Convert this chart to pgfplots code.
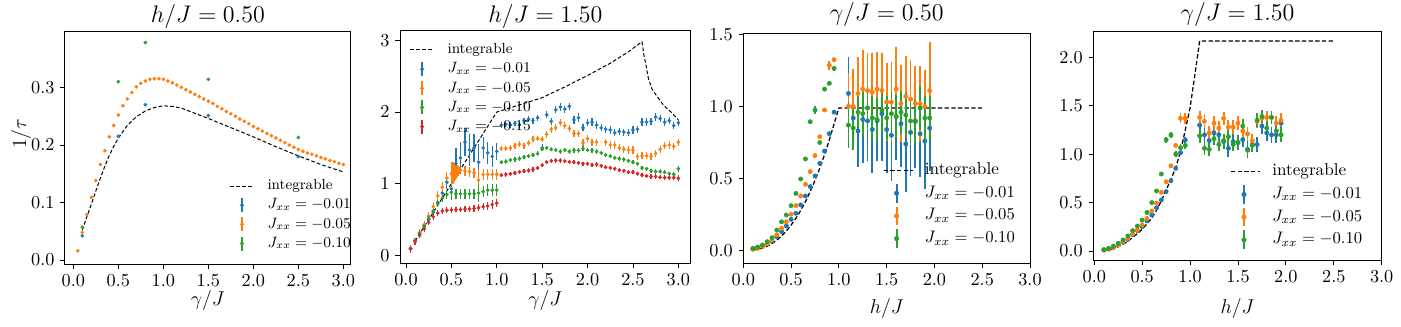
\documentclass[border=0pt]{standalone}
\usepackage{pgfplots}
\pgfplotsset{compat=1.18}
\definecolor{tabblue}{HTML}{1F77B4}
\definecolor{taborange}{HTML}{FF7F0E}
\definecolor{tabgreen}{HTML}{2CA02C}
\definecolor{tabred}{HTML}{D62728}

\pgfplotsset{
  mpl/.style={
    scale only axis, anchor=south west,
    axis line style={line width=0.6pt},
    tick align=outside, tick pos=left,
    major tick length=2.8pt,
    every tick/.style={line width=0.5pt, black},
    tick label style={font=\fontsize{10.5}{12}\selectfont},
    scaled ticks=false,
    xtick={0,0.5,1,1.5,2,2.5,3},
    xticklabel style={/pgf/number format/.cd, fixed, fixed zerofill, precision=1},
    every axis title/.style={at={(0.5,1)}, anchor=base, yshift=5pt,
      font=\fontsize{13.5}{15}\selectfont},
    every axis x label/.style={at={(0.5,0)}, anchor=base, yshift=-24.5pt,
      font=\fontsize{12.5}{14}\selectfont},
    every axis y label/.style={at={(-0.154,0.56)}, anchor=center, rotate=90,
      font=\fontsize{12.5}{14}\selectfont},
    legend cell align=left,
  },
  smalllegend/.style={legend style={draw=none, fill=none, inner sep=0pt,
      column sep=6.5pt, font=\fontsize{8.8}{10}\selectfont,
      nodes={inner sep=1.5pt, text height=6.5pt, text depth=2pt}}},
  biglegend/.style={legend style={draw=none, fill=none, inner sep=0pt,
      column sep=5pt, font=\fontsize{10.3}{12}\selectfont,
      nodes={inner sep=1.9pt, text height=7.3pt, text depth=2.5pt}}},
  intA/.style={black, line width=0.6pt, dash pattern=on 2.2pt off 1.3pt,
    legend image code/.code={\draw (0pt,0pt)--(14pt,0pt);}},
  intB/.style={black, line width=0.75pt, dash pattern=on 2.6pt off 1.4pt,
    legend image code/.code={\draw (0pt,0pt)--(17.5pt,0pt);}},
  ebA/.style={color=#1, only marks, mark=*, mark size=0.9pt,
    error bars/y dir=both, error bars/y explicit, error bars/error mark=none,
    error bars/error bar style={line width=0.75pt},
    legend image code/.code={\path (0pt,0pt) (14pt,0pt);
      \draw[line width=0.75pt] (7pt,-4.2pt)--(7pt,4.2pt);
      \fill (7pt,0pt) circle (1pt);}},
  ebB/.style={color=#1, only marks, mark=*, mark size=1.25pt,
    error bars/y dir=both, error bars/y explicit, error bars/error mark=none,
    error bars/error bar style={line width=1.1pt},
    legend image code/.code={\path (0pt,0pt) (17.5pt,0pt);
      \draw[line width=1.1pt] (7.8pt,-5.6pt)--(7.8pt,5.6pt);
      \fill (7.8pt,0pt) circle (1.3pt);}},
}

\begin{document}
\begin{tikzpicture}
\useasboundingbox (0,0) rectangle (840.6pt,195.6pt);

% ---------------- panel 1: h/J = 0.50 ----------------
\begin{axis}[mpl, smalllegend, at={(39pt,37pt)}, width=171.4pt, height=140pt,
  xmin=-0.0926, xmax=3.081, ymin=-0.0075, ymax=0.398,
  ytick={0,0.1,0.2,0.3},
  yticklabel style={/pgf/number format/.cd, fixed, fixed zerofill, precision=1},
  title={$h/J = 0.50$}, xlabel={$\gamma/J$}, ylabel={$1/\tau$},
  legend style={at={(0.576,0.378)}, anchor=north west}]
\addplot[intA] table {
x y
0.10 0.052
0.15 0.075
0.20 0.097
0.25 0.120
0.30 0.142
0.35 0.163
0.40 0.182
0.45 0.198
0.50 0.212
0.60 0.234
0.70 0.249
0.80 0.259
0.90 0.265
1.00 0.268
1.10 0.267
1.20 0.264
1.30 0.258
1.40 0.252
1.50 0.246
1.75 0.230
2.00 0.214
2.25 0.197
2.50 0.181
2.75 0.166
3.00 0.153
};
\addlegendentry{integrable}
\addplot[ebA=tabblue] table[x=x, y=y, y error=e] {
x y e
0.1 0.042 0.001
0.5 0.215 0.002
0.8 0.270 0.002
1.5 0.251 0.002
2.5 0.180 0.002
};
\addlegendentry{$J_{xx} = -0.01$}
\addplot[ebA=taborange] table[x=x, y=y, y error=e] {
x y e
0.05 0.016 0.001
0.10 0.048 0.001
0.15 0.079 0.001
0.20 0.109 0.001
0.25 0.138 0.001
0.30 0.166 0.001
0.35 0.190 0.001
0.40 0.214 0.001
0.45 0.234 0.001
0.50 0.252 0.001
0.55 0.268 0.001
0.60 0.280 0.001
0.65 0.291 0.001
0.70 0.301 0.001
0.75 0.307 0.001
0.80 0.311 0.001
0.85 0.314 0.001
0.90 0.315 0.001
0.95 0.315 0.001
1.00 0.314 0.001
1.05 0.311 0.001
1.10 0.308 0.001
1.15 0.304 0.001
1.20 0.300 0.001
1.25 0.296 0.001
1.30 0.292 0.001
1.35 0.288 0.001
1.40 0.284 0.001
1.45 0.280 0.001
1.50 0.276 0.001
1.55 0.272 0.001
1.60 0.267 0.001
1.65 0.263 0.001
1.70 0.258 0.001
1.75 0.254 0.001
1.80 0.250 0.001
1.85 0.245 0.001
1.90 0.241 0.001
1.95 0.237 0.001
2.00 0.232 0.001
2.05 0.228 0.001
2.10 0.224 0.001
2.15 0.220 0.001
2.20 0.216 0.001
2.25 0.212 0.001
2.30 0.208 0.001
2.35 0.204 0.001
2.40 0.200 0.001
2.45 0.196 0.001
2.50 0.192 0.001
2.55 0.189 0.001
2.60 0.186 0.001
2.65 0.184 0.001
2.70 0.181 0.001
2.75 0.178 0.001
2.80 0.176 0.001
2.85 0.173 0.001
2.90 0.171 0.001
2.95 0.168 0.001
3.00 0.166 0.001
};
\addlegendentry{$J_{xx} = -0.05$}
\addplot[ebA=tabgreen] table[x=x, y=y, y error=e] {
x y e
0.1 0.057 0.001
0.5 0.310 0.002
0.8 0.378 0.002
1.5 0.314 0.002
2.5 0.213 0.002
};
\addlegendentry{$J_{xx} = -0.10$}
\end{axis}

% ---------------- panel 2: h/J = 1.50 ----------------
\begin{axis}[mpl, smalllegend, at={(240pt,37.6pt)}, width=174.4pt, height=139.4pt,
  xmin=-0.066, xmax=3.136, ymin=-0.11, ymax=3.13,
  ytick={0,1,2,3},
  title={$h/J = 1.50$}, xlabel={$\gamma/J$},
  every axis x label/.append style={yshift=-1pt},
  legend style={at={(0.033,0.961)}, anchor=north west}]
\addplot[intA] table {
x y
0.10 0.20
0.30 0.60
0.50 1.00
0.70 1.40
1.00 2.00
1.25 2.10
1.50 2.20
1.75 2.35
2.00 2.51
2.25 2.68
2.45 2.84
2.60 2.98
2.62 2.80
2.64 2.68
2.67 2.47
2.71 2.32
2.77 2.21
2.84 2.09
2.92 2.00
3.00 1.89
};
\addlegendentry{integrable}
\addplot[ebA=tabblue] table[x=x, y=y, y error=e] {
x y e
0.05 0.10 0.05
0.10 0.20 0.05
0.15 0.30 0.05
0.20 0.40 0.05
0.25 0.50 0.05
0.30 0.60 0.06
0.35 0.74 0.06
0.40 0.87 0.08
0.45 1.02 0.10
0.50 0.93 0.15
0.55 1.28 0.22
0.60 1.36 0.22
0.65 1.58 0.20
0.70 1.47 0.22
0.75 1.50 0.20
0.80 1.30 0.25
0.85 1.50 0.15
0.90 1.43 0.15
0.95 1.38 0.15
1.00 1.45 0.12
1.05 1.82 0.04
1.10 1.83 0.04
1.15 1.82 0.04
1.20 1.84 0.04
1.25 1.82 0.04
1.30 1.88 0.04
1.35 1.90 0.04
1.40 1.88 0.04
1.45 1.92 0.04
1.50 1.50 0.05
1.55 1.96 0.05
1.60 1.87 0.05
1.65 2.03 0.05
1.70 2.07 0.05
1.75 2.04 0.05
1.80 2.08 0.05
1.85 1.89 0.06
1.90 1.92 0.06
1.95 1.78 0.05
2.00 1.85 0.05
2.05 1.86 0.05
2.10 1.82 0.05
2.15 1.78 0.05
2.20 1.76 0.05
2.25 1.75 0.05
2.30 1.71 0.05
2.35 1.73 0.05
2.40 1.72 0.05
2.45 1.71 0.05
2.50 1.75 0.05
2.55 1.76 0.05
2.60 1.86 0.05
2.65 1.86 0.05
2.70 1.87 0.05
2.75 1.93 0.05
2.80 1.91 0.05
2.85 1.86 0.05
2.90 1.88 0.05
2.95 1.81 0.05
3.00 1.85 0.05
};
\addlegendentry{$J_{xx} = -0.01$}
\addplot[ebA=taborange] table[x=x, y=y, y error=e] {
x y e
0.05 0.10 0.04
0.10 0.21 0.04
0.15 0.32 0.05
0.20 0.43 0.05
0.25 0.55 0.05
0.30 0.68 0.06
0.35 0.83 0.07
0.40 0.95 0.08
0.45 1.08 0.08
0.500 1.14 0.17
0.505 1.14 0.16
0.510 1.15 0.16
0.515 1.15 0.15
0.520 1.15 0.15
0.525 1.16 0.14
0.530 1.16 0.13
0.535 1.16 0.12
0.540 1.17 0.12
0.545 1.17 0.11
0.550 1.17 0.10
0.555 1.17 0.10
0.560 1.18 0.09
0.565 1.18 0.08
0.570 1.18 0.08
0.575 1.18 0.07
0.580 1.19 0.06
0.585 1.19 0.05
0.590 1.19 0.05
0.595 1.19 0.04
0.600 1.19 0.04
0.65 1.18 0.07
0.70 1.17 0.07
0.75 1.15 0.07
0.80 1.05 0.15
0.85 1.13 0.08
0.90 1.13 0.08
0.95 1.13 0.08
1.00 1.13 0.08
1.05 1.49 0.04
1.10 1.49 0.04
1.15 1.50 0.04
1.20 1.53 0.04
1.25 1.55 0.04
1.30 1.53 0.04
1.35 1.57 0.04
1.40 1.62 0.04
1.45 1.63 0.04
1.50 1.62 0.04
1.55 1.69 0.05
1.60 1.76 0.05
1.65 1.78 0.05
1.70 1.85 0.05
1.75 1.81 0.05
1.80 1.77 0.05
1.85 1.70 0.05
1.90 1.70 0.05
1.95 1.57 0.05
2.00 1.63 0.05
2.05 1.58 0.05
2.10 1.58 0.05
2.20 1.58 0.05
2.25 1.54 0.05
2.30 1.54 0.05
2.35 1.50 0.05
2.40 1.48 0.05
2.45 1.47 0.05
2.50 1.47 0.05
2.55 1.38 0.05
2.60 1.39 0.05
2.65 1.39 0.05
2.70 1.38 0.05
2.75 1.42 0.05
2.80 1.48 0.05
2.85 1.53 0.05
2.90 1.54 0.05
2.95 1.52 0.05
3.00 1.58 0.05
};
\addlegendentry{$J_{xx} = -0.05$}
\addplot[ebA=tabgreen] table[x=x, y=y, y error=e] {
x y e
0.05 0.10 0.04
0.10 0.21 0.04
0.15 0.31 0.04
0.20 0.41 0.04
0.25 0.52 0.05
0.30 0.62 0.05
0.35 0.72 0.05
0.40 0.80 0.06
0.45 0.85 0.06
0.50 0.88 0.07
0.55 0.86 0.07
0.60 0.86 0.07
0.65 0.86 0.07
0.70 0.86 0.07
0.75 0.86 0.07
0.80 0.87 0.12
0.85 0.89 0.08
0.90 0.91 0.08
0.95 0.91 0.08
1.00 0.91 0.08
1.05 1.30 0.03
1.10 1.31 0.03
1.15 1.33 0.03
1.20 1.34 0.03
1.25 1.35 0.03
1.30 1.37 0.03
1.35 1.385 0.03
1.40 1.40 0.03
1.45 1.42 0.03
1.50 1.48 0.03
1.55 1.50 0.03
1.60 1.48 0.03
1.65 1.47 0.03
1.70 1.45 0.03
1.75 1.47 0.03
1.80 1.45 0.03
1.85 1.465 0.03
1.90 1.465 0.03
1.95 1.49 0.03
2.00 1.47 0.03
2.05 1.465 0.03
2.10 1.45 0.03
2.15 1.43 0.03
2.20 1.40 0.03
2.25 1.385 0.03
2.30 1.36 0.03
2.35 1.35 0.03
2.40 1.34 0.03
2.45 1.32 0.03
2.50 1.30 0.03
2.55 1.28 0.03
2.60 1.22 0.03
2.65 1.21 0.03
2.70 1.18 0.03
2.75 1.17 0.03
2.80 1.17 0.03
2.85 1.16 0.03
2.90 1.14 0.03
2.95 1.13 0.03
3.00 1.21 0.04
};
\addlegendentry{$J_{xx} = -0.10$}
\addplot[ebA=tabred] table[x=x, y=y, y error=e] {
x y e
0.05 0.09 0.05
0.10 0.19 0.04
0.15 0.28 0.04
0.20 0.37 0.04
0.25 0.46 0.04
0.30 0.54 0.04
0.35 0.59 0.04
0.40 0.62 0.04
0.45 0.63 0.04
0.50 0.635 0.04
0.55 0.64 0.04
0.60 0.64 0.04
0.65 0.645 0.04
0.70 0.65 0.04
0.75 0.655 0.05
0.80 0.665 0.05
0.85 0.68 0.05
0.90 0.69 0.05
0.95 0.71 0.06
1.00 0.73 0.06
1.05 1.12 0.03
1.10 1.13 0.03
1.15 1.14 0.03
1.20 1.15 0.03
1.25 1.165 0.03
1.30 1.175 0.03
1.35 1.185 0.03
1.40 1.20 0.03
1.45 1.22 0.03
1.50 1.26 0.03
1.55 1.30 0.03
1.60 1.32 0.03
1.65 1.325 0.03
1.70 1.325 0.03
1.75 1.315 0.03
1.80 1.305 0.03
1.85 1.30 0.03
1.90 1.29 0.03
1.95 1.28 0.03
2.00 1.28 0.03
2.05 1.26 0.03
2.10 1.27 0.03
2.15 1.25 0.03
2.20 1.23 0.03
2.25 1.22 0.03
2.30 1.21 0.03
2.35 1.19 0.03
2.40 1.18 0.03
2.45 1.16 0.03
2.50 1.16 0.03
2.55 1.14 0.03
2.60 1.12 0.03
2.65 1.11 0.03
2.70 1.10 0.03
2.75 1.10 0.03
2.80 1.09 0.03
2.85 1.085 0.03
2.90 1.085 0.03
2.95 1.085 0.03
3.00 1.075 0.04
};
\addlegendentry{$J_{xx} = -0.15$}
\end{axis}

% ---------------- panel 3: gamma/J = 0.50 ----------------
\begin{axis}[mpl, biglegend, at={(446pt,37.6pt)}, width=172pt, height=138pt,
  xmin=0, xmax=3, ymin=-0.088, ymax=1.507,
  ytick={0,0.5,1,1.5},
  yticklabel style={/pgf/number format/.cd, fixed, fixed zerofill, precision=1},
  title={$\gamma/J = 0.50$}, xlabel={$h/J$},
  title style={font=\fontsize{15}{17}\selectfont, yshift=2.6pt},
  xlabel style={font=\fontsize{13}{15}\selectfont, yshift=-5.5pt},
  legend style={at={(0.486,0.454)}, anchor=north west}]
\addplot[intB] table {
x y
0.10 0.003
0.15 0.009
0.20 0.018
0.25 0.031
0.30 0.049
0.35 0.072
0.40 0.101
0.45 0.136
0.50 0.177
0.55 0.224
0.60 0.278
0.65 0.340
0.70 0.410
0.75 0.487
0.80 0.572
0.85 0.666
0.90 0.768
0.95 0.880
1.00 0.990
2.50 0.990
};
\addlegendentry{integrable}
\addplot[ebB=tabblue] table[x=x, y=y, y error=e] {
x y e
0.10 0.012 0.003
0.15 0.022 0.003
0.20 0.034 0.003
0.25 0.050 0.004
0.30 0.067 0.004
0.35 0.097 0.005
0.40 0.132 0.005
0.45 0.171 0.006
0.50 0.217 0.006
0.55 0.259 0.007
0.60 0.317 0.008
0.65 0.379 0.008
0.70 0.444 0.009
0.75 0.518 0.010
0.80 0.605 0.010
0.85 0.690 0.010
0.90 0.811 0.012
0.95 0.960 0.015
1.10 1.09 0.25
1.15 0.92 0.22
1.20 0.83 0.25
1.25 0.91 0.30
1.30 0.90 0.28
1.35 0.84 0.30
1.40 0.90 0.28
1.45 0.95 0.33
1.50 0.84 0.30
1.55 0.80 0.32
1.60 0.93 0.30
1.65 0.88 0.30
1.70 0.74 0.33
1.75 0.82 0.30
1.80 0.90 0.33
1.85 0.81 0.30
1.90 0.76 0.33
1.95 0.85 0.30
};
\addlegendentry{$J_{xx} = -0.01$}
\addplot[ebB=taborange] table[x=x, y=y, y error=e] {
x y e
0.10 0.010 0.003
0.15 0.016 0.003
0.20 0.030 0.003
0.25 0.048 0.004
0.30 0.075 0.004
0.35 0.110 0.005
0.40 0.155 0.005
0.45 0.200 0.006
0.50 0.252 0.006
0.55 0.312 0.007
0.60 0.379 0.008
0.65 0.460 0.008
0.70 0.548 0.009
0.75 0.659 0.010
0.80 0.790 0.012
0.85 0.975 0.015
0.90 1.285 0.030
0.95 1.324 0.015
1.10 1.00 0.23
1.15 1.00 0.26
1.20 1.09 0.25
1.25 1.12 0.27
1.30 1.11 0.26
1.35 1.10 0.27
1.40 1.12 0.26
1.45 1.11 0.26
1.50 1.03 0.27
1.55 1.03 0.28
1.60 1.12 0.29
1.65 1.02 0.27
1.70 1.07 0.28
1.75 1.05 0.27
1.80 1.02 0.26
1.85 1.02 0.26
1.90 1.00 0.25
1.95 1.11 0.34
};
\addlegendentry{$J_{xx} = -0.05$}
\addplot[ebB=tabgreen] table[x=x, y=y, y error=e] {
x y e
0.10 0.016 0.003
0.15 0.025 0.003
0.20 0.039 0.003
0.25 0.062 0.004
0.30 0.090 0.004
0.35 0.143 0.005
0.40 0.200 0.005
0.45 0.247 0.006
0.50 0.312 0.006
0.55 0.397 0.007
0.60 0.497 0.008
0.65 0.636 0.008
0.70 0.894 0.010
0.75 0.975 0.030
0.80 0.750 0.010
0.85 1.120 0.012
0.90 1.160 0.012
0.95 1.264 0.015
1.10 0.87 0.16
1.15 0.85 0.15
1.20 0.96 0.15
1.25 0.95 0.15
1.30 0.99 0.15
1.35 0.92 0.15
1.40 0.91 0.15
1.45 0.975 0.15
1.50 0.92 0.15
1.55 0.95 0.15
1.60 0.93 0.15
1.65 0.96 0.15
1.70 0.94 0.15
1.75 0.90 0.15
1.80 0.895 0.15
1.85 0.99 0.15
1.90 0.92 0.15
1.95 0.92 0.15
};
\addlegendentry{$J_{xx} = -0.10$}
\end{axis}

% ---------------- panel 4: gamma/J = 1.50 ----------------
\begin{axis}[mpl, biglegend, at={(656pt,39.6pt)}, width=173pt, height=137.4pt,
  xmin=-0.01, xmax=3, ymin=-0.093, ymax=2.272,
  ytick={0,0.5,1,1.5,2},
  yticklabel style={/pgf/number format/.cd, fixed, fixed zerofill, precision=1},
  title={$\gamma/J = 1.50$}, xlabel={$h/J$},
  title style={font=\fontsize{15}{17}\selectfont, yshift=1.6pt},
  xlabel style={font=\fontsize{13}{15}\selectfont, yshift=-7.5pt},
  legend style={at={(0.474,0.436)}, anchor=north west}]
\addplot[intB] table {
x y
0.10 0.005
0.15 0.012
0.20 0.025
0.25 0.045
0.30 0.070
0.35 0.100
0.40 0.140
0.45 0.180
0.50 0.225
0.55 0.280
0.60 0.340
0.65 0.420
0.70 0.520
0.75 0.630
0.80 0.740
0.85 0.860
0.90 1.030
0.95 1.250
1.00 1.480
1.05 1.820
1.10 2.170
2.50 2.170
};
\addlegendentry{integrable}
\addplot[ebB=tabblue] table[x=x, y=y, y error=e] {
x y e
0.10 0.010 0.004
0.15 0.020 0.004
0.20 0.038 0.005
0.25 0.062 0.005
0.30 0.090 0.006
0.35 0.120 0.006
0.40 0.169 0.007
0.45 0.210 0.008
0.50 0.251 0.008
0.55 0.310 0.009
0.60 0.372 0.010
0.65 0.447 0.010
0.70 0.527 0.012
0.75 0.613 0.012
0.80 0.726 0.015
0.85 0.854 0.015
0.90 1.015 0.020
0.95 1.146 0.030
1.10 1.30 0.08
1.15 1.20 0.08
1.20 1.14 0.08
1.25 1.22 0.08
1.30 1.20 0.08
1.35 1.13 0.08
1.40 1.06 0.09
1.45 1.13 0.08
1.50 1.12 0.08
1.55 1.15 0.08
1.60 1.05 0.09
1.65 1.10 0.08
1.70 1.10 0.08
1.75 1.29 0.08
1.80 1.22 0.08
1.85 1.20 0.08
1.90 1.20 0.08
1.95 1.32 0.08
};
\addlegendentry{$J_{xx} = -0.01$}
\addplot[ebB=taborange] table[x=x, y=y, y error=e] {
x y e
0.10 0.010 0.004
0.15 0.020 0.004
0.20 0.038 0.005
0.25 0.062 0.005
0.30 0.096 0.006
0.35 0.130 0.006
0.40 0.175 0.007
0.45 0.217 0.008
0.50 0.270 0.008
0.55 0.335 0.009
0.60 0.413 0.010
0.65 0.495 0.010
0.70 0.606 0.012
0.75 0.715 0.012
0.80 0.880 0.015
0.85 1.090 0.020
0.90 1.370 0.050
0.95 1.370 0.060
1.10 1.38 0.07
1.15 1.34 0.07
1.20 1.22 0.07
1.25 1.32 0.07
1.30 1.27 0.07
1.35 1.37 0.07
1.40 1.28 0.07
1.45 1.28 0.07
1.50 1.32 0.07
1.55 1.24 0.07
1.60 1.21 0.07
1.65 1.14 0.07
1.70 1.34 0.07
1.75 1.37 0.07
1.80 1.38 0.07
1.85 1.38 0.07
1.90 1.32 0.07
1.95 1.35 0.07
};
\addlegendentry{$J_{xx} = -0.05$}
\addplot[ebB=tabgreen] table[x=x, y=y, y error=e] {
x y e
0.10 0.014 0.004
0.15 0.028 0.004
0.20 0.050 0.005
0.25 0.080 0.005
0.30 0.114 0.006
0.35 0.155 0.006
0.40 0.210 0.007
0.45 0.258 0.008
0.50 0.320 0.008
0.55 0.398 0.009
0.60 0.500 0.010
0.65 0.620 0.012
0.70 0.795 0.015
0.75 1.148 0.030
0.80 1.198 0.030
0.85 1.000 0.030
0.90 1.067 0.040
0.95 1.090 0.040
1.10 1.19 0.07
1.15 1.06 0.07
1.20 1.05 0.07
1.25 1.16 0.07
1.30 1.10 0.07
1.35 1.14 0.07
1.40 1.18 0.07
1.45 1.10 0.07
1.50 1.12 0.07
1.55 1.29 0.07
1.60 1.04 0.07
1.65 1.09 0.07
1.70 1.35 0.07
1.75 1.39 0.07
1.80 1.27 0.07
1.85 1.38 0.07
1.90 1.24 0.07
1.95 1.20 0.07
};
\addlegendentry{$J_{xx} = -0.10$}
\end{axis}
\end{tikzpicture}
\end{document}
